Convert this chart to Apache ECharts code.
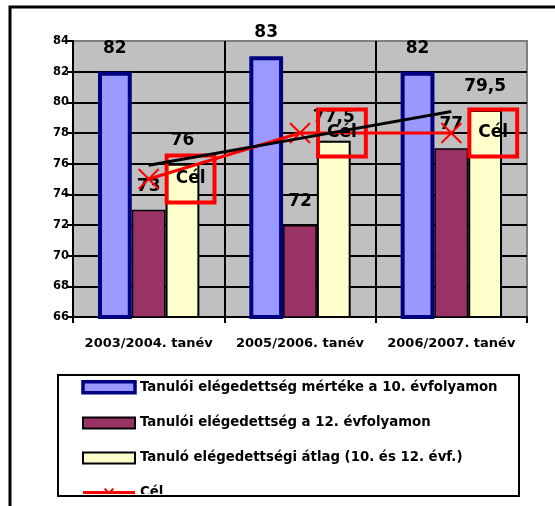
<!DOCTYPE html>
<html>
<head>
<meta charset="utf-8">
<script src="https://cdn.jsdelivr.net/npm/echarts@6/dist/echarts.min.js"></script>
<style>
html,body{margin:0;padding:0;background:#fff;}
#chart{width:555px;height:506px;}
</style>
</head>
<body>
<div id="chart"></div>
<script>
const categories = ['2003/2004. tanév', '2005/2006. tanév', '2006/2007. tanév'];
const seriesNames = [
  'Tanulói elégedettség mértéke a 10. évfolyamon',
  'Tanulói elégedettség a 12. évfolyamon',
  'Tanuló elégedettségi átlag (10. és 12. évf.)',
  'Cél'
];
const grade10 = [82, 83, 82];
const grade12 = [73, 72, 77];
const average = [76, 77.5, 79.5];
const target = [75, 78, 78];
const trend = [75.9, 77.65, 79.4];
const yMin = 66, yMax = 84, yStep = 2;

const FONT = 'DejaVu Sans';
const barLabel = {
  show: true, position: 'top', distance: 15,
  fontFamily: FONT, fontWeight: 'bold', fontSize: 17, color: '#000',
  formatter: p => String(p.value).replace('.', ',')
};

const chart = echarts.init(document.getElementById('chart'), null, {renderer: 'canvas'});
chart.setOption({
  animation: false,
  backgroundColor: '#fff',
  grid: {
    left: 73, top: 41, right: 28, bottom: 189,
    show: true, backgroundColor: '#C0C0C0', borderColor: '#808080', borderWidth: 2
  },
  legend: {
    orient: 'vertical', left: 81, top: 380, height: 130, padding: 0,
    itemWidth: 52, itemHeight: 11, itemGap: 22,
    data: [
      {name: seriesNames[0], icon: 'rect', itemStyle: {borderWidth: 3.5, borderColor: '#000080'}},
      {name: seriesNames[1], icon: 'rect', itemStyle: {borderWidth: 2, borderColor: '#000'}},
      {name: seriesNames[2], icon: 'rect', itemStyle: {borderWidth: 2, borderColor: '#000'}},
      {name: seriesNames[3], lineStyle: {width: 4}}
    ],
    textStyle: {fontFamily: FONT, fontWeight: 'bold', fontSize: 13.3, color: '#000', lineHeight: 11}
  },
  xAxis: {
    type: 'category', data: categories,
    axisLine: {lineStyle: {color: '#000', width: 2}},
    axisTick: {show: true, length: 6, lineStyle: {color: '#000', width: 2}},
    splitLine: {show: true, showMinLine: false, showMaxLine: false, lineStyle: {color: '#000', width: 2}},
    axisLabel: {interval: 0, hideOverlap: false, fontFamily: FONT, fontWeight: 'bold', fontSize: 13, color: '#000', margin: 20}
  },
  yAxis: {
    type: 'value', min: yMin, max: yMax, interval: yStep,
    axisLine: {show: true, lineStyle: {color: '#000', width: 2}},
    axisTick: {show: true, length: 6, lineStyle: {color: '#000', width: 2}},
    splitLine: {show: true, showMinLine: false, showMaxLine: false, lineStyle: {color: '#000', width: 2}},
    axisLabel: {fontFamily: FONT, fontWeight: 'bold', fontSize: 11.5, color: '#000', margin: 4}
  },
  series: [
    {
      name: seriesNames[0], type: 'bar', data: grade10,
      barGap: '0%', barCategoryGap: '33%',
      itemStyle: {color: '#9999FF', borderColor: '#000080', borderWidth: 4},
      label: barLabel
    },
    {
      name: seriesNames[1], type: 'bar', data: grade12,
      itemStyle: {color: '#993366', borderColor: '#000', borderWidth: 1.5},
      label: barLabel
    },
    {
      name: seriesNames[2], type: 'bar', data: average,
      itemStyle: {color: '#FFFFCC', borderColor: '#000', borderWidth: 2},
      label: barLabel
    },
    {
      name: seriesNames[3], type: 'line', data: target, z: 4,
      symbol: 'path://M0,0 L10,10 M10,0 L0,10', symbolSize: 20,
      lineStyle: {color: '#FF0000', width: 3},
      itemStyle: {color: '#FF0000', borderColor: '#FF0000', borderWidth: 2},
      label: {
        show: true, position: 'right', distance: 7, formatter: 'Cél',
        fontFamily: FONT, fontWeight: 'bold', fontSize: 17, lineHeight: 17, color: '#000',
        borderColor: '#FF0000', borderWidth: 4, padding: [15, 9]
      }
    },
    {
      name: 'trend', type: 'line', data: trend, z: 5,
      symbol: 'none', silent: true,
      lineStyle: {color: '#000', width: 3}
    }
  ],
  graphic: [
    {type: 'text', x: 40, y: 0, z: 10, style: {text: 'Elégedettség (%)', font: '13px "Liberation Sans"', fill: '#808080', verticalAlign: 'bottom'}},
    {type: 'polyline', z: 10, shape: {points: [[10, 506], [10, 7], [555, 7]]}, style: {stroke: '#000', lineWidth: 3, fill: null}},
    {type: 'rect', z: 100, shape: {x: 56, y: 494, width: 466, height: 12}, style: {fill: '#fff'}},
    {type: 'rect', z: 101, shape: {x: 58, y: 375, width: 461, height: 121}, style: {stroke: '#000', lineWidth: 2, fill: null}}
  ]
});
</script>
</body>
</html>
